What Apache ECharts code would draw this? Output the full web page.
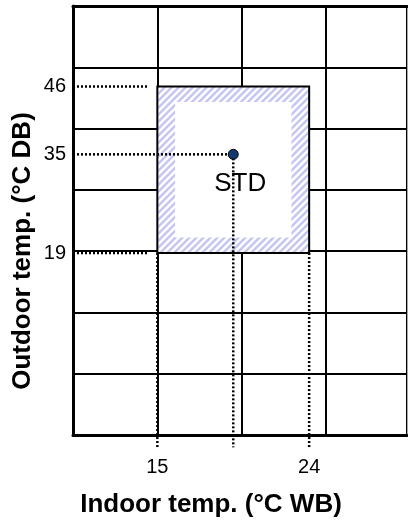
<!DOCTYPE html>
<html>
<head>
<meta charset="utf-8">
<script src="https://cdn.jsdelivr.net/npm/echarts@6/dist/echarts.min.js"></script>
<style>
html, body { margin: 0; padding: 0; background: #fff; }
#chart { width: 408px; height: 531px; }
</style>
</head>
<body>
<div id="chart"></div>
<script>
// values
var xTicks = [15, 24];            // indoor temp (°C WB)
var yTicks = [19, 35, 46];        // outdoor temp (°C DB)
var indoorRange = [15, 24];
var outdoorRange = [19, 46];
var stdPoint = [19.5, 35];

var xMin = 10, xMax = 29.8;
var yMin = -10.5, yMax = 59.05;
var gridRows = 7;

var font = 'Liberation Sans, Arial, sans-serif';

// hatch tile for the operating range band
function hatchPattern() {
    var c = document.createElement('canvas');
    c.width = 7; c.height = 7;
    var ctx = c.getContext('2d');
    ctx.fillStyle = '#fff';
    ctx.fillRect(0, 0, 7, 7);
    ctx.strokeStyle = '#c6c6f3';
    ctx.lineWidth = 2.5;
    ctx.beginPath();
    ctx.moveTo(-1, 8); ctx.lineTo(8, -1);
    ctx.moveTo(-1, 1); ctx.lineTo(1, -1);
    ctx.moveTo(6, 8); ctx.lineTo(8, 6);
    ctx.stroke();
    return { image: c, repeat: 'repeat' };
}

var dotted = { color: '#000', width: 2.5, type: [2, 2] };
var guideEnd = 14.45;      // horizontal guides stop short of the box
var below = yMin - 2;      // vertical guides run a bit under the axis

var guides = [
    [[xMin, outdoorRange[1]], [guideEnd, outdoorRange[1]]],
    [[xMin, stdPoint[1]], stdPoint],
    [[xMin, outdoorRange[0]], [guideEnd, outdoorRange[0]]],
    [[indoorRange[0], outdoorRange[0]], [indoorRange[0], below]],
    [[indoorRange[1], outdoorRange[0]], [indoorRange[1], below]],
    [stdPoint, [stdPoint[0], below]]
];

var bandX = 1.05, bandY = 2.5;

var series = [{
    type: 'line',
    data: [],
    z: 2,
    markArea: {
        silent: true,
        data: [
            [{ xAxis: indoorRange[0], yAxis: outdoorRange[0],
               itemStyle: { color: hatchPattern(), borderColor: '#000', borderWidth: 2, opacity: 1 } },
             { xAxis: indoorRange[1], yAxis: outdoorRange[1] }],
            [{ xAxis: indoorRange[0] + bandX, yAxis: outdoorRange[0] + bandY,
               itemStyle: { color: '#fff', borderWidth: 0, opacity: 1 } },
             { xAxis: indoorRange[1] - bandX, yAxis: outdoorRange[1] - bandY }]
        ]
    }
}];

guides.forEach(function (seg) {
    series.push({
        type: 'line',
        data: seg,
        z: 3,
        clip: false,
        symbol: 'none',
        silent: true,
        lineStyle: dotted
    });
});

series.push({
    type: 'scatter',
    data: [stdPoint],
    z: 4,
    symbolSize: 10,
    itemStyle: { color: '#123a6e', borderColor: '#000', borderWidth: 1, opacity: 1 },
    label: {
        show: true,
        formatter: 'STD',
        position: 'bottom',
        offset: [7, 6],
        color: '#000',
        fontSize: 26,
        fontFamily: font
    }
});

var chart = echarts.init(document.getElementById('chart'));
chart.setOption({
    animation: false,
    grid: { left: 73, right: 1, top: 6, bottom: 96, containLabel: false },
    xAxis: [{
        type: 'value',
        min: xMin, max: xMax, interval: 5,
        axisLine: { show: true, onZero: false, lineStyle: { color: '#000', width: 3 } },
        axisTick: { show: false },
        axisLabel: { customValues: xTicks, margin: 22, fontSize: 20, color: '#000', fontFamily: font },
        splitLine: { show: true, lineStyle: { color: '#000', width: 2 } }
    }, {
        type: 'value', position: 'top',
        min: xMin, max: xMax,
        axisLine: { show: true, onZero: false, lineStyle: { color: '#000', width: 3 } },
        axisTick: { show: false }, axisLabel: { show: false }, splitLine: { show: false }
    }],
    yAxis: [{
        type: 'value',
        min: yMin, max: yMax,
        axisLine: { show: true, onZero: false, lineStyle: { color: '#000', width: 3 } },
        axisTick: { show: false },
        axisLabel: { customValues: yTicks, margin: 7, fontSize: 20, color: '#000', fontFamily: font },
        splitLine: { show: false }
    }, {
        type: 'value', position: 'right',
        min: 0, max: gridRows, interval: 1,
        axisLine: { show: true, onZero: false, lineStyle: { color: '#aaa', width: 1 } },
        axisTick: { show: false }, axisLabel: { show: false },
        splitLine: { show: true, lineStyle: { color: '#000', width: 2 } }
    }],
    graphic: [{
        type: 'text', x: 211, y: 505,
        style: { text: 'Indoor temp. (°C WB)', fontSize: 26, fontWeight: 'bold', fontFamily: font,
                 fill: '#000', align: 'center', verticalAlign: 'middle' }
    }, {
        type: 'text', x: 23, y: 251, rotation: Math.PI / 2,
        style: { text: 'Outdoor temp. (°C DB)', fontSize: 26, fontWeight: 'bold', fontFamily: font,
                 fill: '#000', align: 'center', verticalAlign: 'middle' }
    }],
    series: series
});
</script>
</body>
</html>
